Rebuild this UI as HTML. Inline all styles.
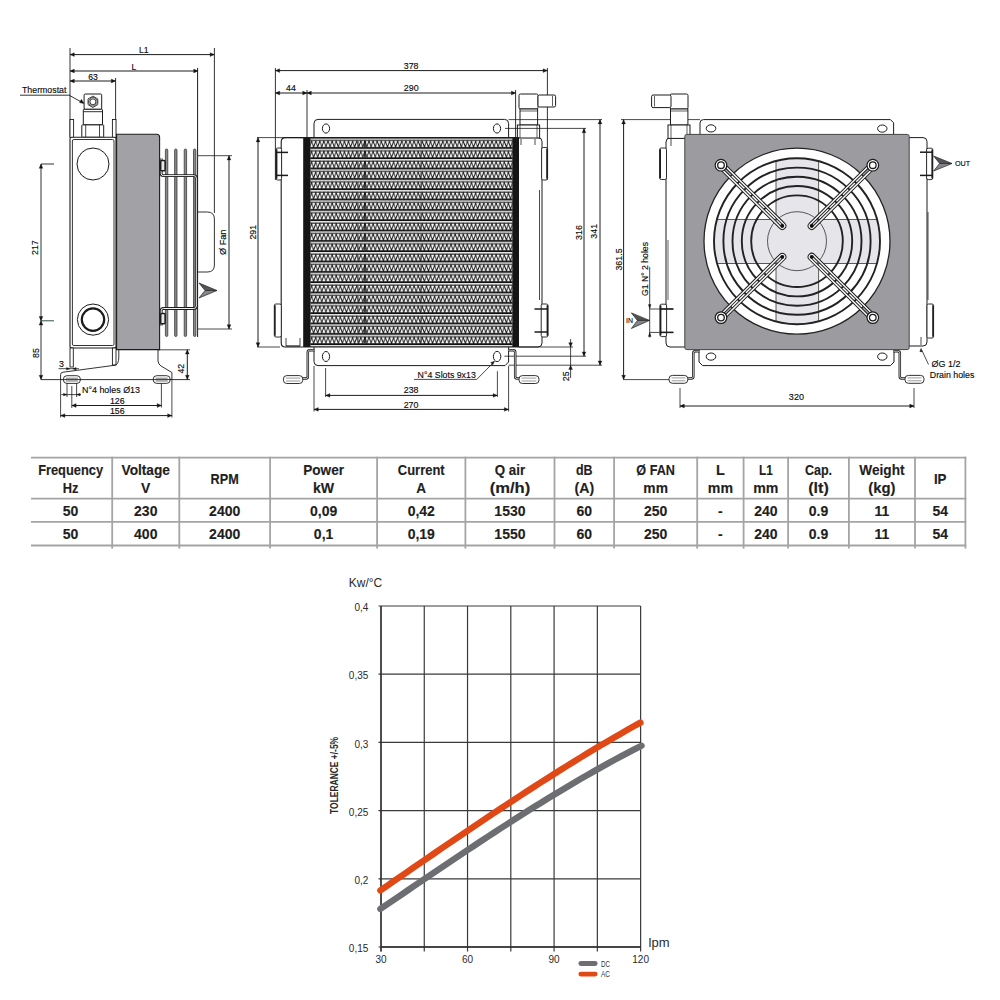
<!DOCTYPE html>
<html><head><meta charset="utf-8"><title>Oil cooler datasheet</title>
<style>
html,body{margin:0;padding:0;background:#fff;}
body{width:1000px;height:1000px;overflow:hidden;font-family:"Liberation Sans",sans-serif;}
svg{position:absolute;left:0;top:0;display:block;}
</style></head>
<body>
<svg width="1000" height="1000" viewBox="0 0 1000 1000">
<defs>
<pattern id="fin" x="0" y="138.4" width="4.1" height="10.33" patternUnits="userSpaceOnUse">
<rect x="0" y="0" width="4.1" height="10.33" fill="#111"/>
<rect x="0" y="0" width="4.1" height="1.6" fill="#e2e2e2"/>
<rect x="0" y="2.6" width="4.1" height="6.0" fill="#fafafa"/>
<path d="M-2.05 8.6 L0 2.6 L2.05 8.6 L4.1 2.6 L6.15 8.6" stroke="#111" stroke-width="0.95" fill="none"/>
</pattern>
</defs>
<line x1="70" y1="48" x2="70" y2="137" stroke="#1c1c1c" stroke-width="0.9" />
<line x1="70" y1="54.6" x2="214.4" y2="54.6" stroke="#1c1c1c" stroke-width="1" />
<path d="M70 54.6 L74.3 52.7 L74.3 56.5 Z" stroke="#151515" stroke-width="0.3" fill="#151515" />
<path d="M214.4 54.6 L210.1 52.7 L210.1 56.5 Z" stroke="#151515" stroke-width="0.3" fill="#151515" />
<text x="143.8" y="53.3" font-family="Liberation Sans, sans-serif" font-size="9.2" font-weight="normal" fill="#0a0a0a" text-anchor="middle" textLength="9.62" lengthAdjust="spacingAndGlyphs" stroke="#0a0a0a" stroke-width="0.14">L1</text>
<line x1="70" y1="71" x2="198" y2="71" stroke="#1c1c1c" stroke-width="1" />
<path d="M70 71 L74.3 69.1 L74.3 72.9 Z" stroke="#151515" stroke-width="0.3" fill="#151515" />
<path d="M198 71 L193.7 69.1 L193.7 72.9 Z" stroke="#151515" stroke-width="0.3" fill="#151515" />
<text x="134" y="70" font-family="Liberation Sans, sans-serif" font-size="9.2" font-weight="normal" fill="#0a0a0a" text-anchor="middle" textLength="4.81" lengthAdjust="spacingAndGlyphs" stroke="#0a0a0a" stroke-width="0.14">L</text>
<line x1="70" y1="81" x2="115.6" y2="81" stroke="#1c1c1c" stroke-width="1" />
<path d="M70 81 L74.3 79.1 L74.3 82.9 Z" stroke="#151515" stroke-width="0.3" fill="#151515" />
<path d="M115.6 81 L111.3 79.1 L111.3 82.9 Z" stroke="#151515" stroke-width="0.3" fill="#151515" />
<text x="93" y="79.8" font-family="Liberation Sans, sans-serif" font-size="9.2" font-weight="normal" fill="#0a0a0a" text-anchor="middle" textLength="9.62" lengthAdjust="spacingAndGlyphs" stroke="#0a0a0a" stroke-width="0.14">63</text>
<line x1="115.6" y1="78" x2="115.6" y2="137" stroke="#1c1c1c" stroke-width="0.9" />
<line x1="214.4" y1="48" x2="214.4" y2="213" stroke="#1c1c1c" stroke-width="0.9" />
<line x1="197.6" y1="68" x2="197.6" y2="337" stroke="#1c1c1c" stroke-width="1" />
<text x="44.2" y="93" font-family="Liberation Sans, sans-serif" font-size="9.4" font-weight="normal" fill="#0a0a0a" text-anchor="middle" textLength="44.4" lengthAdjust="spacingAndGlyphs" stroke="#0a0a0a" stroke-width="0.14">Thermostat</text>
<line x1="20" y1="95.2" x2="70" y2="95.2" stroke="#1c1c1c" stroke-width="0.9" />
<line x1="69.8" y1="95.6" x2="81" y2="101.8" stroke="#1c1c1c" stroke-width="0.9" />
<path d="M84.2 103.7 L79.4 102.6 L81.4 99.3 Z" stroke="#151515" stroke-width="0.3" fill="#151515" />
<rect x="84.1" y="94" width="17.6" height="15.3" rx="1.2" fill="white" stroke="#1c1c1c" stroke-width="1" />
<path d="M92.9 96.1 L97.8 98.9 L97.8 104.6 L92.9 107.5 L88 104.6 L88 98.9 Z" stroke="#1c1c1c" stroke-width="0.8" fill="none" stroke-linejoin="round"/>
<circle cx="92.9" cy="101.8" r="4.3" fill="none" stroke="#1c1c1c" stroke-width="0.8" />
<circle cx="92.9" cy="101.8" r="3" fill="white" stroke="#1c1c1c" stroke-width="0.9" />
<rect x="83.3" y="109.3" width="19.2" height="15.6" rx="0.8" fill="white" stroke="#1c1c1c" stroke-width="1" />
<line x1="83.3" y1="111.7" x2="102.5" y2="111.7" stroke="#1c1c1c" stroke-width="0.9" />
<rect x="81.8" y="124.9" width="21.9" height="12.4" rx="0.6" fill="white" stroke="#1c1c1c" stroke-width="1" />
<line x1="85.7" y1="124.9" x2="85.7" y2="137.3" stroke="#1c1c1c" stroke-width="0.8" />
<line x1="99.5" y1="124.9" x2="99.5" y2="137.3" stroke="#1c1c1c" stroke-width="0.8" />
<rect x="70" y="119.5" width="3.6" height="18" rx="0" fill="white" stroke="#1c1c1c" stroke-width="0.9" />
<rect x="112.4" y="119.5" width="3.6" height="18" rx="0" fill="white" stroke="#1c1c1c" stroke-width="0.9" />
<rect x="70" y="137.3" width="46" height="210.7" rx="1.5" fill="white" stroke="#1c1c1c" stroke-width="1.1" />
<rect x="72.4" y="139.5" width="41.6" height="206" rx="1.5" fill="none" stroke="#1c1c1c" stroke-width="0.9" />
<circle cx="93" cy="164" r="16" fill="white" stroke="#1c1c1c" stroke-width="1" />
<circle cx="93" cy="319.6" r="15.6" fill="white" stroke="#1c1c1c" stroke-width="1" />
<circle cx="93" cy="319.6" r="11.2" fill="white" stroke="#1c1c1c" stroke-width="2.2" />
<rect x="70" y="348" width="3.3" height="19" rx="0" fill="white" stroke="#1c1c1c" stroke-width="0.9" />
<rect x="112.4" y="348" width="3.6" height="17" rx="0" fill="white" stroke="#1c1c1c" stroke-width="0.9" />
<path d="M116.6 134.2 L156.6 134.2 Q159.6 134.2 159.6 137.2 L159.6 349.6 L116.6 349.6 Z" stroke="#1c1c1c" stroke-width="1.1" fill="#a2a1a6" />
<rect x="165.4" y="149" width="2.4" height="187.5" rx="1.2" fill="#8a8a8a" stroke="#2a2a2a" stroke-width="0.7" />
<rect x="174.6" y="149" width="2.4" height="187.5" rx="1.2" fill="#8a8a8a" stroke="#2a2a2a" stroke-width="0.7" />
<rect x="184.2" y="149" width="2.4" height="187.5" rx="1.2" fill="#8a8a8a" stroke="#2a2a2a" stroke-width="0.7" />
<rect x="193.5" y="149" width="2.4" height="187.5" rx="1.2" fill="#8a8a8a" stroke="#2a2a2a" stroke-width="0.7" />
<path d="M161.2 158.5 L161.2 173.5 Q161.2 175.6 163.3 175.6 L193.8 175.6 Q196.3 175.6 196.3 178.1 L196.3 306 Q196.3 308.5 193.8 308.5 L163.3 308.5 Q161.2 308.5 161.2 310.6 L161.2 325.5" stroke="#1c1c1c" stroke-width="2.8" fill="none" stroke-linejoin="round"/>
<path d="M161.2 158.5 L161.2 173.5 Q161.2 175.6 163.3 175.6 L193.8 175.6 Q196.3 175.6 196.3 178.1 L196.3 306 Q196.3 308.5 193.8 308.5 L163.3 308.5 Q161.2 308.5 161.2 310.6 L161.2 325.5" stroke="#f4f4f4" stroke-width="1" fill="none" stroke-linejoin="round"/>
<rect x="160.7" y="160.6" width="4.4" height="10.2" rx="1" fill="#e8e8e8" stroke="#1c1c1c" stroke-width="1.5" />
<rect x="160.7" y="313.6" width="4.4" height="10.2" rx="1" fill="#e8e8e8" stroke="#1c1c1c" stroke-width="1.5" />
<path d="M198 212 L207.4 212 Q214.4 212 214.4 219 L214.4 265 Q214.4 272 207.4 272 L198 272" stroke="#1c1c1c" stroke-width="0.9" fill="none" />
<line x1="198" y1="155.7" x2="232" y2="155.7" stroke="#1c1c1c" stroke-width="0.8" />
<line x1="198" y1="329" x2="232" y2="329" stroke="#1c1c1c" stroke-width="0.8" />
<line x1="229" y1="155.7" x2="229" y2="329" stroke="#1c1c1c" stroke-width="1" />
<path d="M229 155.7 L227.1 160 L230.9 160 Z" stroke="#151515" stroke-width="0.3" fill="#151515" />
<path d="M229 329 L227.1 324.7 L230.9 324.7 Z" stroke="#151515" stroke-width="0.3" fill="#151515" />
<text x="226" y="242.3" font-family="Liberation Sans, sans-serif" font-size="9.4" font-weight="normal" fill="#0a0a0a" text-anchor="middle" transform="rotate(-90 226 242.3)" textLength="25.5" lengthAdjust="spacingAndGlyphs" stroke="#0a0a0a" stroke-width="0.14">Ø Fan</text>
<path d="M199 283 L217 290.5 L205 290.5 Z" stroke="#222" stroke-width="0.7" fill="#555" />
<path d="M199 298 L217 290.5 L205 290.5 Z" stroke="#222" stroke-width="0.7" fill="#85858b" />
<line x1="41" y1="164" x2="41" y2="379.6" stroke="#1c1c1c" stroke-width="0.9" />
<path d="M41 164 L39.1 168.3 L42.9 168.3 Z" stroke="#151515" stroke-width="0.3" fill="#151515" />
<path d="M41 320.8 L39.1 316.5 L42.9 316.5 Z" stroke="#151515" stroke-width="0.3" fill="#151515" />
<path d="M41 320.8 L39.1 325.1 L42.9 325.1 Z" stroke="#151515" stroke-width="0.3" fill="#151515" />
<path d="M41 379.6 L39.1 375.3 L42.9 375.3 Z" stroke="#151515" stroke-width="0.3" fill="#151515" />
<line x1="41" y1="164" x2="54" y2="164" stroke="#1c1c1c" stroke-width="0.9" />
<line x1="41" y1="320.8" x2="54" y2="320.8" stroke="#1d3b2a" stroke-width="0.9" />
<text x="38.1" y="247.6" font-family="Liberation Sans, sans-serif" font-size="9.4" font-weight="normal" fill="#0a0a0a" text-anchor="middle" transform="rotate(-90 38.1 247.6)" textLength="14.74" lengthAdjust="spacingAndGlyphs" stroke="#0a0a0a" stroke-width="0.14">217</text>
<text x="38.5" y="353" font-family="Liberation Sans, sans-serif" font-size="9.4" font-weight="normal" fill="#0a0a0a" text-anchor="middle" transform="rotate(-90 38.5 353)" textLength="9.83" lengthAdjust="spacingAndGlyphs" stroke="#0a0a0a" stroke-width="0.14">85</text>
<path d="M60.6 380 L60.6 374.6 Q60.6 372.4 63 372.2 L115.2 365.2 Q118.5 364 118.8 358 L118.8 349.6" stroke="#1c1c1c" stroke-width="0.9" fill="none" />
<path d="M158 349.6 L158 361 Q158.5 364.5 161 366 L171.9 372.5 L171.9 380" stroke="#1c1c1c" stroke-width="0.9" fill="none" />
<line x1="41" y1="379.6" x2="190" y2="379.6" stroke="#1c1c1c" stroke-width="0.9" />
<rect x="63.4" y="375.7" width="17" height="7.7" rx="3.5" fill="none" stroke="#1c1c1c" stroke-width="0.9" />
<line x1="65.9" y1="378.2" x2="77.9" y2="378.2" stroke="#1c1c1c" stroke-width="0.6" />
<line x1="65.9" y1="381" x2="77.9" y2="381" stroke="#1c1c1c" stroke-width="0.6" />
<rect x="153.2" y="375.7" width="17" height="7.7" rx="3.5" fill="none" stroke="#1c1c1c" stroke-width="0.9" />
<line x1="155.7" y1="378.2" x2="167.7" y2="378.2" stroke="#1c1c1c" stroke-width="0.6" />
<line x1="155.7" y1="381" x2="167.7" y2="381" stroke="#1c1c1c" stroke-width="0.6" />
<line x1="158" y1="349.8" x2="190" y2="349.8" stroke="#1c1c1c" stroke-width="0.8" />
<line x1="187.3" y1="349.8" x2="187.3" y2="379.6" stroke="#1c1c1c" stroke-width="1" />
<path d="M187.3 349.8 L185.4 354.1 L189.2 354.1 Z" stroke="#151515" stroke-width="0.3" fill="#151515" />
<path d="M187.3 379.6 L185.4 375.3 L189.2 375.3 Z" stroke="#151515" stroke-width="0.3" fill="#151515" />
<text x="184.5" y="368.7" font-family="Liberation Sans, sans-serif" font-size="9.4" font-weight="normal" fill="#0a0a0a" text-anchor="middle" transform="rotate(-90 184.5 368.7)" textLength="9.83" lengthAdjust="spacingAndGlyphs" stroke="#0a0a0a" stroke-width="0.14">42</text>
<text x="61.4" y="366.6" font-family="Liberation Sans, sans-serif" font-size="9.4" font-weight="normal" fill="#0a0a0a" text-anchor="middle" textLength="4.91" lengthAdjust="spacingAndGlyphs" stroke="#0a0a0a" stroke-width="0.14">3</text>
<line x1="58.5" y1="368.7" x2="79" y2="368.7" stroke="#1c1c1c" stroke-width="0.8" />
<path d="M70 368.7 L66.5 367.4 L66.5 370 Z" stroke="#151515" stroke-width="0.3" fill="#151515" />
<path d="M72.6 368.7 L76.1 367.4 L76.1 370 Z" stroke="#151515" stroke-width="0.3" fill="#151515" />
<line x1="67" y1="383" x2="67" y2="397" stroke="#1c1c1c" stroke-width="0.8" />
<line x1="76.6" y1="383" x2="76.6" y2="397" stroke="#1c1c1c" stroke-width="0.8" />
<line x1="71.8" y1="386" x2="71.8" y2="408" stroke="#1c1c1c" stroke-width="0.8" />
<line x1="61.3" y1="394.6" x2="81" y2="394.6" stroke="#1c1c1c" stroke-width="0.8" />
<path d="M67 394.6 L63.5 393.3 L63.5 395.9 Z" stroke="#151515" stroke-width="0.3" fill="#151515" />
<path d="M76.6 394.6 L80.1 393.3 L80.1 395.9 Z" stroke="#151515" stroke-width="0.3" fill="#151515" />
<text x="82" y="393" font-family="Liberation Sans, sans-serif" font-size="9.4" font-weight="normal" fill="#0a0a0a" text-anchor="start" textLength="58" lengthAdjust="spacingAndGlyphs" stroke="#0a0a0a" stroke-width="0.14">N°4 holes Ø13</text>
<line x1="161.4" y1="383.5" x2="161.4" y2="407.5" stroke="#1c1c1c" stroke-width="0.8" />
<line x1="71.8" y1="405.5" x2="161.4" y2="405.5" stroke="#1c1c1c" stroke-width="1" />
<path d="M71.8 405.5 L76.1 403.6 L76.1 407.4 Z" stroke="#151515" stroke-width="0.3" fill="#151515" />
<path d="M161.4 405.5 L157.1 403.6 L157.1 407.4 Z" stroke="#151515" stroke-width="0.3" fill="#151515" />
<text x="117.3" y="403.7" font-family="Liberation Sans, sans-serif" font-size="9.4" font-weight="normal" fill="#0a0a0a" text-anchor="middle" textLength="14.74" lengthAdjust="spacingAndGlyphs" stroke="#0a0a0a" stroke-width="0.14">126</text>
<line x1="60.6" y1="380" x2="60.6" y2="417.5" stroke="#1c1c1c" stroke-width="0.8" />
<line x1="171.9" y1="380" x2="171.9" y2="417.5" stroke="#1c1c1c" stroke-width="0.8" />
<line x1="60.6" y1="415.6" x2="171.9" y2="415.6" stroke="#1c1c1c" stroke-width="1" />
<path d="M60.6 415.6 L64.9 413.7 L64.9 417.5 Z" stroke="#151515" stroke-width="0.3" fill="#151515" />
<path d="M171.9 415.6 L167.6 413.7 L167.6 417.5 Z" stroke="#151515" stroke-width="0.3" fill="#151515" />
<text x="117.3" y="414.2" font-family="Liberation Sans, sans-serif" font-size="9.4" font-weight="normal" fill="#0a0a0a" text-anchor="middle" textLength="14.74" lengthAdjust="spacingAndGlyphs" stroke="#0a0a0a" stroke-width="0.14">156</text>
<line x1="275.4" y1="68" x2="275.4" y2="180" stroke="#1c1c1c" stroke-width="0.9" />
<line x1="275.4" y1="70.6" x2="547.4" y2="70.6" stroke="#1c1c1c" stroke-width="1" />
<path d="M275.4 70.6 L279.7 68.7 L279.7 72.5 Z" stroke="#151515" stroke-width="0.3" fill="#151515" />
<path d="M547.4 70.6 L543.1 68.7 L543.1 72.5 Z" stroke="#151515" stroke-width="0.3" fill="#151515" />
<text x="411.1" y="69" font-family="Liberation Sans, sans-serif" font-size="9.4" font-weight="normal" fill="#0a0a0a" text-anchor="middle" textLength="14.74" lengthAdjust="spacingAndGlyphs" stroke="#0a0a0a" stroke-width="0.14">378</text>
<line x1="307" y1="90" x2="307" y2="137.6" stroke="#1c1c1c" stroke-width="0.9" />
<line x1="275.4" y1="93" x2="307" y2="93" stroke="#1c1c1c" stroke-width="1" />
<path d="M275.4 93 L279.7 91.1 L279.7 94.9 Z" stroke="#151515" stroke-width="0.3" fill="#151515" />
<path d="M307 93 L302.7 91.1 L302.7 94.9 Z" stroke="#151515" stroke-width="0.3" fill="#151515" />
<line x1="307" y1="93" x2="515.6" y2="93" stroke="#1c1c1c" stroke-width="1" />
<path d="M307 93 L311.3 91.1 L311.3 94.9 Z" stroke="#151515" stroke-width="0.3" fill="#151515" />
<path d="M515.6 93 L511.3 91.1 L511.3 94.9 Z" stroke="#151515" stroke-width="0.3" fill="#151515" />
<text x="291" y="91" font-family="Liberation Sans, sans-serif" font-size="9.4" font-weight="normal" fill="#0a0a0a" text-anchor="middle" textLength="9.83" lengthAdjust="spacingAndGlyphs" stroke="#0a0a0a" stroke-width="0.14">44</text>
<text x="411.2" y="91" font-family="Liberation Sans, sans-serif" font-size="9.4" font-weight="normal" fill="#0a0a0a" text-anchor="middle" textLength="14.74" lengthAdjust="spacingAndGlyphs" stroke="#0a0a0a" stroke-width="0.14">290</text>
<line x1="515.6" y1="90" x2="515.6" y2="137.6" stroke="#1c1c1c" stroke-width="0.9" />
<line x1="547.4" y1="68" x2="547.4" y2="180" stroke="#1c1c1c" stroke-width="0.9" />
<path d="M314 137.6 L314 123.4 Q314 119.4 318 119.4 L504.6 119.4 Q508.6 119.4 508.6 123.4 L508.6 137.6" stroke="#1c1c1c" stroke-width="1" fill="white" />
<ellipse cx="326" cy="128.5" rx="3.6" ry="4.6" fill="white" stroke="#1c1c1c" stroke-width="1"/>
<ellipse cx="497" cy="128.5" rx="3.6" ry="4.6" fill="white" stroke="#1c1c1c" stroke-width="1"/>
<path d="M314 347 L314 361.6 Q314 365.6 318 365.6 L505 365.6 L508.6 362 L508.6 347" stroke="#1c1c1c" stroke-width="1" fill="white" />
<ellipse cx="326" cy="356.5" rx="3.6" ry="5" fill="white" stroke="#1c1c1c" stroke-width="1"/>
<ellipse cx="497.1" cy="356.5" rx="3.7" ry="5.1" fill="white" stroke="#1c1c1c" stroke-width="1"/>
<path d="M303.6 137.6 L285.5 137.6 Q281.2 137.6 281.2 141.9 L281.2 342.7 Q281.2 347 285.5 347 L303.6 347" stroke="#1c1c1c" stroke-width="1.1" fill="white" />
<rect x="276" y="148" width="5.6" height="32" rx="1.6" fill="white" stroke="#1c1c1c" stroke-width="0.9" />
<line x1="276.6" y1="149.2" x2="276.6" y2="178.8" stroke="#1c1c1c" stroke-width="1.6" />
<line x1="276" y1="152.4" x2="288" y2="152.4" stroke="#1c1c1c" stroke-width="1.5" />
<line x1="276" y1="175.4" x2="288" y2="175.4" stroke="#1c1c1c" stroke-width="1.5" />
<rect x="274.3" y="304" width="7" height="33" rx="1.6" fill="white" stroke="#1c1c1c" stroke-width="0.9" />
<line x1="274.9" y1="305.2" x2="274.9" y2="335.8" stroke="#1c1c1c" stroke-width="1.6" />
<line x1="286" y1="338" x2="286" y2="346" stroke="#1c1c1c" stroke-width="0.8" />
<line x1="300" y1="338" x2="300" y2="346" stroke="#1c1c1c" stroke-width="0.8" />
<line x1="286" y1="346" x2="300" y2="346" stroke="#1c1c1c" stroke-width="1.2" />
<path d="M519 137.6 L538 137.6 Q542 137.6 542 141.6 L542 343 Q542 347 538 347 L519 347" stroke="#1c1c1c" stroke-width="1" fill="white" />
<rect x="541.6" y="147.5" width="6" height="32.5" rx="1.6" fill="white" stroke="#1c1c1c" stroke-width="0.9" />
<line x1="547" y1="148.7" x2="547" y2="178.8" stroke="#1c1c1c" stroke-width="1.6" />
<rect x="541.2" y="304" width="6.8" height="33" rx="1.6" fill="white" stroke="#1c1c1c" stroke-width="0.9" />
<line x1="547.4" y1="305.2" x2="547.4" y2="335.8" stroke="#1c1c1c" stroke-width="1.6" />
<line x1="534.5" y1="309" x2="548" y2="309" stroke="#1c1c1c" stroke-width="1.5" />
<line x1="534.5" y1="332" x2="548" y2="332" stroke="#1c1c1c" stroke-width="1.5" />
<line x1="539.5" y1="190" x2="539.5" y2="300" stroke="#1c1c1c" stroke-width="0.8" />
<line x1="521" y1="139" x2="521" y2="145" stroke="#1c1c1c" stroke-width="0.8" />
<line x1="535" y1="139" x2="535" y2="145" stroke="#1c1c1c" stroke-width="0.8" />
<rect x="519" y="94" width="19" height="15" rx="1.5" fill="white" stroke="#1c1c1c" stroke-width="1" />
<rect x="538" y="95" width="17.6" height="12" rx="1.5" fill="white" stroke="#1c1c1c" stroke-width="1" />
<line x1="552.5" y1="96" x2="552.5" y2="106" stroke="#1c1c1c" stroke-width="0.7" />
<rect x="520" y="109" width="17.6" height="16" rx="0" fill="white" stroke="#1c1c1c" stroke-width="1" />
<line x1="520" y1="111" x2="537.6" y2="111" stroke="#1c1c1c" stroke-width="0.7" />
<rect x="517.4" y="125" width="22.2" height="13" rx="0" fill="white" stroke="#1c1c1c" stroke-width="1" />
<line x1="520" y1="125" x2="520" y2="138" stroke="#1c1c1c" stroke-width="0.7" />
<line x1="537" y1="125" x2="537" y2="138" stroke="#1c1c1c" stroke-width="0.7" />
<rect x="303.2" y="137.6" width="7.4" height="209.4" rx="0" fill="#151515" stroke="none" stroke-width="0" />
<rect x="512.2" y="137.6" width="6.8" height="209.4" rx="0" fill="#151515" stroke="none" stroke-width="0" />
<rect x="310.6" y="137.6" width="201.6" height="209.4" rx="0" fill="#141414" stroke="none" stroke-width="0" />
<rect x="310.6" y="137.6" width="201.6" height="209.4" fill="url(#fin)"/>
<rect x="364.2" y="140.8" width="1.5" height="6.3" rx="0" fill="#111" stroke="none" stroke-width="0" />
<rect x="357.5" y="140.8" width="1" height="6.3" rx="0" fill="#444" stroke="none" stroke-width="0" />
<rect x="420.6" y="140.8" width="0.9" height="6.3" rx="0" fill="#333" stroke="none" stroke-width="0" />
<rect x="364.2" y="151.13" width="1.5" height="6.3" rx="0" fill="#111" stroke="none" stroke-width="0" />
<rect x="357.5" y="151.13" width="1" height="6.3" rx="0" fill="#444" stroke="none" stroke-width="0" />
<rect x="420.6" y="151.13" width="0.9" height="6.3" rx="0" fill="#333" stroke="none" stroke-width="0" />
<rect x="364.2" y="161.46" width="1.5" height="6.3" rx="0" fill="#111" stroke="none" stroke-width="0" />
<rect x="357.5" y="161.46" width="1" height="6.3" rx="0" fill="#444" stroke="none" stroke-width="0" />
<rect x="420.6" y="161.46" width="0.9" height="6.3" rx="0" fill="#333" stroke="none" stroke-width="0" />
<rect x="364.2" y="171.79" width="1.5" height="6.3" rx="0" fill="#111" stroke="none" stroke-width="0" />
<rect x="357.5" y="171.79" width="1" height="6.3" rx="0" fill="#444" stroke="none" stroke-width="0" />
<rect x="420.6" y="171.79" width="0.9" height="6.3" rx="0" fill="#333" stroke="none" stroke-width="0" />
<rect x="364.2" y="182.12" width="1.5" height="6.3" rx="0" fill="#111" stroke="none" stroke-width="0" />
<rect x="357.5" y="182.12" width="1" height="6.3" rx="0" fill="#444" stroke="none" stroke-width="0" />
<rect x="420.6" y="182.12" width="0.9" height="6.3" rx="0" fill="#333" stroke="none" stroke-width="0" />
<rect x="364.2" y="192.45" width="1.5" height="6.3" rx="0" fill="#111" stroke="none" stroke-width="0" />
<rect x="357.5" y="192.45" width="1" height="6.3" rx="0" fill="#444" stroke="none" stroke-width="0" />
<rect x="420.6" y="192.45" width="0.9" height="6.3" rx="0" fill="#333" stroke="none" stroke-width="0" />
<rect x="364.2" y="202.78" width="1.5" height="6.3" rx="0" fill="#111" stroke="none" stroke-width="0" />
<rect x="357.5" y="202.78" width="1" height="6.3" rx="0" fill="#444" stroke="none" stroke-width="0" />
<rect x="420.6" y="202.78" width="0.9" height="6.3" rx="0" fill="#333" stroke="none" stroke-width="0" />
<rect x="364.2" y="213.11" width="1.5" height="6.3" rx="0" fill="#111" stroke="none" stroke-width="0" />
<rect x="357.5" y="213.11" width="1" height="6.3" rx="0" fill="#444" stroke="none" stroke-width="0" />
<rect x="420.6" y="213.11" width="0.9" height="6.3" rx="0" fill="#333" stroke="none" stroke-width="0" />
<rect x="364.2" y="223.44" width="1.5" height="6.3" rx="0" fill="#111" stroke="none" stroke-width="0" />
<rect x="357.5" y="223.44" width="1" height="6.3" rx="0" fill="#444" stroke="none" stroke-width="0" />
<rect x="420.6" y="223.44" width="0.9" height="6.3" rx="0" fill="#333" stroke="none" stroke-width="0" />
<rect x="364.2" y="233.77" width="1.5" height="6.3" rx="0" fill="#111" stroke="none" stroke-width="0" />
<rect x="357.5" y="233.77" width="1" height="6.3" rx="0" fill="#444" stroke="none" stroke-width="0" />
<rect x="420.6" y="233.77" width="0.9" height="6.3" rx="0" fill="#333" stroke="none" stroke-width="0" />
<rect x="364.2" y="244.1" width="1.5" height="6.3" rx="0" fill="#111" stroke="none" stroke-width="0" />
<rect x="357.5" y="244.1" width="1" height="6.3" rx="0" fill="#444" stroke="none" stroke-width="0" />
<rect x="420.6" y="244.1" width="0.9" height="6.3" rx="0" fill="#333" stroke="none" stroke-width="0" />
<rect x="364.2" y="254.43" width="1.5" height="6.3" rx="0" fill="#111" stroke="none" stroke-width="0" />
<rect x="357.5" y="254.43" width="1" height="6.3" rx="0" fill="#444" stroke="none" stroke-width="0" />
<rect x="420.6" y="254.43" width="0.9" height="6.3" rx="0" fill="#333" stroke="none" stroke-width="0" />
<rect x="364.2" y="264.76" width="1.5" height="6.3" rx="0" fill="#111" stroke="none" stroke-width="0" />
<rect x="357.5" y="264.76" width="1" height="6.3" rx="0" fill="#444" stroke="none" stroke-width="0" />
<rect x="420.6" y="264.76" width="0.9" height="6.3" rx="0" fill="#333" stroke="none" stroke-width="0" />
<rect x="364.2" y="275.09" width="1.5" height="6.3" rx="0" fill="#111" stroke="none" stroke-width="0" />
<rect x="357.5" y="275.09" width="1" height="6.3" rx="0" fill="#444" stroke="none" stroke-width="0" />
<rect x="420.6" y="275.09" width="0.9" height="6.3" rx="0" fill="#333" stroke="none" stroke-width="0" />
<rect x="364.2" y="285.42" width="1.5" height="6.3" rx="0" fill="#111" stroke="none" stroke-width="0" />
<rect x="357.5" y="285.42" width="1" height="6.3" rx="0" fill="#444" stroke="none" stroke-width="0" />
<rect x="420.6" y="285.42" width="0.9" height="6.3" rx="0" fill="#333" stroke="none" stroke-width="0" />
<rect x="364.2" y="295.75" width="1.5" height="6.3" rx="0" fill="#111" stroke="none" stroke-width="0" />
<rect x="357.5" y="295.75" width="1" height="6.3" rx="0" fill="#444" stroke="none" stroke-width="0" />
<rect x="420.6" y="295.75" width="0.9" height="6.3" rx="0" fill="#333" stroke="none" stroke-width="0" />
<rect x="364.2" y="306.08" width="1.5" height="6.3" rx="0" fill="#111" stroke="none" stroke-width="0" />
<rect x="357.5" y="306.08" width="1" height="6.3" rx="0" fill="#444" stroke="none" stroke-width="0" />
<rect x="420.6" y="306.08" width="0.9" height="6.3" rx="0" fill="#333" stroke="none" stroke-width="0" />
<rect x="364.2" y="316.41" width="1.5" height="6.3" rx="0" fill="#111" stroke="none" stroke-width="0" />
<rect x="357.5" y="316.41" width="1" height="6.3" rx="0" fill="#444" stroke="none" stroke-width="0" />
<rect x="420.6" y="316.41" width="0.9" height="6.3" rx="0" fill="#333" stroke="none" stroke-width="0" />
<rect x="364.2" y="326.74" width="1.5" height="6.3" rx="0" fill="#111" stroke="none" stroke-width="0" />
<rect x="357.5" y="326.74" width="1" height="6.3" rx="0" fill="#444" stroke="none" stroke-width="0" />
<rect x="420.6" y="326.74" width="0.9" height="6.3" rx="0" fill="#333" stroke="none" stroke-width="0" />
<rect x="364.2" y="337.07" width="1.5" height="6.3" rx="0" fill="#111" stroke="none" stroke-width="0" />
<rect x="357.5" y="337.07" width="1" height="6.3" rx="0" fill="#444" stroke="none" stroke-width="0" />
<rect x="420.6" y="337.07" width="0.9" height="6.3" rx="0" fill="#333" stroke="none" stroke-width="0" />
<line x1="300" y1="137.6" x2="313" y2="137.6" stroke="#1c1c1c" stroke-width="1" />
<line x1="257" y1="137.6" x2="303.6" y2="137.6" stroke="#1c1c1c" stroke-width="0.8" />
<line x1="303.6" y1="137.6" x2="519" y2="137.6" stroke="#1c1c1c" stroke-width="1.2" />
<line x1="303.6" y1="347" x2="519" y2="347" stroke="#1c1c1c" stroke-width="1.2" />
<line x1="258" y1="137.6" x2="258" y2="347" stroke="#1c1c1c" stroke-width="1" />
<path d="M258 137.6 L256.1 141.9 L259.9 141.9 Z" stroke="#151515" stroke-width="0.3" fill="#151515" />
<path d="M258 347 L256.1 342.7 L259.9 342.7 Z" stroke="#151515" stroke-width="0.3" fill="#151515" />
<line x1="257" y1="347" x2="280" y2="347" stroke="#1c1c1c" stroke-width="0.8" />
<text x="255.9" y="232.2" font-family="Liberation Sans, sans-serif" font-size="9.4" font-weight="normal" fill="#0a0a0a" text-anchor="middle" transform="rotate(-90 255.9 232.2)" textLength="14.74" lengthAdjust="spacingAndGlyphs" stroke="#0a0a0a" stroke-width="0.14">291</text>
<line x1="508.6" y1="119.6" x2="602" y2="119.6" stroke="#1c1c1c" stroke-width="0.8" />
<line x1="621" y1="119.6" x2="700" y2="119.6" stroke="#1c1c1c" stroke-width="0.8" />
<line x1="505" y1="128.4" x2="586" y2="128.4" stroke="#1c1c1c" stroke-width="0.8" />
<line x1="584" y1="128.4" x2="584" y2="356.2" stroke="#1c1c1c" stroke-width="1" />
<path d="M584 128.4 L582.1 132.7 L585.9 132.7 Z" stroke="#151515" stroke-width="0.3" fill="#151515" />
<path d="M584 356.2 L582.1 351.9 L585.9 351.9 Z" stroke="#151515" stroke-width="0.3" fill="#151515" />
<line x1="504.4" y1="356.2" x2="586" y2="356.2" stroke="#1c1c1c" stroke-width="0.8" />
<text x="581.8" y="232.5" font-family="Liberation Sans, sans-serif" font-size="9.4" font-weight="normal" fill="#0a0a0a" text-anchor="middle" transform="rotate(-90 581.8 232.5)" textLength="14.74" lengthAdjust="spacingAndGlyphs" stroke="#0a0a0a" stroke-width="0.14">316</text>
<line x1="600" y1="119.6" x2="600" y2="365.2" stroke="#1c1c1c" stroke-width="1" />
<path d="M600 119.6 L598.1 123.9 L601.9 123.9 Z" stroke="#151515" stroke-width="0.3" fill="#151515" />
<path d="M600 365.2 L598.1 360.9 L601.9 360.9 Z" stroke="#151515" stroke-width="0.3" fill="#151515" />
<line x1="508.6" y1="365.2" x2="602" y2="365.2" stroke="#1c1c1c" stroke-width="0.8" />
<text x="597.2" y="231.3" font-family="Liberation Sans, sans-serif" font-size="9.4" font-weight="normal" fill="#0a0a0a" text-anchor="middle" transform="rotate(-90 597.2 231.3)" textLength="14.74" lengthAdjust="spacingAndGlyphs" stroke="#0a0a0a" stroke-width="0.14">341</text>
<line x1="623.6" y1="119.6" x2="623.6" y2="379.6" stroke="#1c1c1c" stroke-width="1" />
<path d="M623.6 119.6 L621.7 123.9 L625.5 123.9 Z" stroke="#151515" stroke-width="0.3" fill="#151515" />
<path d="M623.6 379.6 L621.7 375.3 L625.5 375.3 Z" stroke="#151515" stroke-width="0.3" fill="#151515" />
<text x="622" y="259.5" font-family="Liberation Sans, sans-serif" font-size="9.4" font-weight="normal" fill="#0a0a0a" text-anchor="middle" transform="rotate(-90 622 259.5)" textLength="22.11" lengthAdjust="spacingAndGlyphs" stroke="#0a0a0a" stroke-width="0.14">361.5</text>
<line x1="623.6" y1="379.6" x2="672" y2="379.6" stroke="#1c1c1c" stroke-width="0.8" />
<line x1="519" y1="347" x2="573" y2="347" stroke="#1c1c1c" stroke-width="0.8" />
<line x1="570.6" y1="339" x2="570.6" y2="378" stroke="#1c1c1c" stroke-width="0.8" />
<path d="M570.6 347 L568.7 342.7 L572.5 342.7 Z" stroke="#151515" stroke-width="0.3" fill="#151515" />
<path d="M570.6 365.2 L568.7 369.5 L572.5 369.5 Z" stroke="#151515" stroke-width="0.3" fill="#151515" />
<text x="568.8" y="376.3" font-family="Liberation Sans, sans-serif" font-size="9.4" font-weight="normal" fill="#0a0a0a" text-anchor="middle" transform="rotate(-90 568.8 376.3)" textLength="9.83" lengthAdjust="spacingAndGlyphs" stroke="#0a0a0a" stroke-width="0.14">25</text>
<path d="M314.5 350.2 L309.8 350.2 Q307.8 350.2 307.8 352.2 L307.8 376.6 Q307.8 378.6 305.8 378.6 L301.5 378.6" stroke="#1c1c1c" stroke-width="2.5" fill="none" />
<path d="M314.5 350.2 L309.8 350.2 Q307.8 350.2 307.8 352.2 L307.8 376.6 Q307.8 378.6 305.8 378.6 L301.5 378.6" stroke="#f0f0f0" stroke-width="0.8" fill="none" />
<rect x="283.4" y="375.6" width="19.4" height="7.9" rx="3.4" fill="white" stroke="#1c1c1c" stroke-width="0.9" />
<line x1="286" y1="378.1" x2="300.2" y2="378.1" stroke="#555" stroke-width="0.6" />
<line x1="286" y1="381" x2="300.2" y2="381" stroke="#555" stroke-width="0.6" />
<path d="M508.2 350.2 L513.2 350.2 Q515.2 350.2 515.2 352.2 L515.2 376.6 Q515.2 378.6 517.2 378.6 L520.5 378.6" stroke="#1c1c1c" stroke-width="2.5" fill="none" />
<path d="M508.2 350.2 L513.2 350.2 Q515.2 350.2 515.2 352.2 L515.2 376.6 Q515.2 378.6 517.2 378.6 L520.5 378.6" stroke="#f0f0f0" stroke-width="0.8" fill="none" />
<rect x="519" y="375.6" width="20" height="7.9" rx="3.4" fill="white" stroke="#1c1c1c" stroke-width="0.9" />
<line x1="521.6" y1="378.1" x2="536.4" y2="378.1" stroke="#555" stroke-width="0.6" />
<line x1="521.6" y1="381" x2="536.4" y2="381" stroke="#555" stroke-width="0.6" />
<line x1="325.6" y1="368" x2="325.6" y2="397" stroke="#1c1c1c" stroke-width="0.8" />
<line x1="497.4" y1="371.2" x2="497.4" y2="397" stroke="#1c1c1c" stroke-width="0.8" />
<line x1="325.6" y1="395.4" x2="497.4" y2="395.4" stroke="#1c1c1c" stroke-width="1" />
<path d="M325.6 395.4 L329.9 393.5 L329.9 397.3 Z" stroke="#151515" stroke-width="0.3" fill="#151515" />
<path d="M497.4 395.4 L493.1 393.5 L493.1 397.3 Z" stroke="#151515" stroke-width="0.3" fill="#151515" />
<text x="411.1" y="392.8" font-family="Liberation Sans, sans-serif" font-size="9.4" font-weight="normal" fill="#0a0a0a" text-anchor="middle" textLength="14.74" lengthAdjust="spacingAndGlyphs" stroke="#0a0a0a" stroke-width="0.14">238</text>
<line x1="314" y1="366" x2="314" y2="411.5" stroke="#1c1c1c" stroke-width="0.8" />
<line x1="508.6" y1="366" x2="508.6" y2="411.5" stroke="#1c1c1c" stroke-width="0.8" />
<line x1="314" y1="409.4" x2="508.6" y2="409.4" stroke="#1c1c1c" stroke-width="1" />
<path d="M314 409.4 L318.3 407.5 L318.3 411.3 Z" stroke="#151515" stroke-width="0.3" fill="#151515" />
<path d="M508.6 409.4 L504.3 407.5 L504.3 411.3 Z" stroke="#151515" stroke-width="0.3" fill="#151515" />
<text x="411" y="408.4" font-family="Liberation Sans, sans-serif" font-size="9.4" font-weight="normal" fill="#0a0a0a" text-anchor="middle" textLength="14.74" lengthAdjust="spacingAndGlyphs" stroke="#0a0a0a" stroke-width="0.14">270</text>
<text x="417.6" y="378.2" font-family="Liberation Sans, sans-serif" font-size="9.4" font-weight="normal" fill="#0a0a0a" text-anchor="start" textLength="58.2" lengthAdjust="spacingAndGlyphs" stroke="#0a0a0a" stroke-width="0.14">N°4 Slots 9x13</text>
<line x1="414" y1="379.4" x2="476.8" y2="379.4" stroke="#1c1c1c" stroke-width="0.8" />
<line x1="476.8" y1="379.4" x2="493" y2="363" stroke="#1c1c1c" stroke-width="0.8" />
<path d="M494.8 361 L490.6 362.6 L492.8 364.9 Z" stroke="#222" stroke-width="0.3" fill="#222" />
<path d="M700 134.4 L700 123 Q700 119.6 703.5 119.6 L890.4 119.6 L893.6 122.8 L893.6 134.4" stroke="#1c1c1c" stroke-width="1" fill="white" />
<ellipse cx="711" cy="128.4" rx="4.8" ry="3.6" fill="white" stroke="#1c1c1c" stroke-width="1"/>
<ellipse cx="882.3" cy="128.6" rx="4.7" ry="3.6" fill="white" stroke="#1c1c1c" stroke-width="1"/>
<path d="M699 349.6 L699 362 L702.6 365.6 L890.4 365.6 L894 362 L894 349.6" stroke="#1c1c1c" stroke-width="1" fill="white" />
<ellipse cx="711" cy="356.6" rx="4.8" ry="3.6" fill="white" stroke="#1c1c1c" stroke-width="1"/>
<ellipse cx="882.3" cy="356.6" rx="4.7" ry="3.6" fill="white" stroke="#1c1c1c" stroke-width="1"/>
<path d="M685 138 L670 138 Q666 138 666 142 L666 343 Q666 347 670 347 L685 347" stroke="#1c1c1c" stroke-width="1" fill="white" />
<line x1="668" y1="240" x2="668" y2="300" stroke="#1c1c1c" stroke-width="0.7" />
<rect x="659.6" y="148" width="6.9" height="31.5" rx="1.6" fill="white" stroke="#1c1c1c" stroke-width="0.9" />
<line x1="660.2" y1="149.2" x2="660.2" y2="178.3" stroke="#1c1c1c" stroke-width="1.6" />
<rect x="660" y="304.2" width="6.6" height="32.4" rx="1.6" fill="white" stroke="#1c1c1c" stroke-width="0.9" />
<line x1="660.6" y1="305.4" x2="660.6" y2="335.4" stroke="#1c1c1c" stroke-width="1.6" />
<line x1="660" y1="309" x2="673.4" y2="309" stroke="#1c1c1c" stroke-width="1.5" />
<line x1="660" y1="332.4" x2="673.4" y2="332.4" stroke="#1c1c1c" stroke-width="1.5" />
<line x1="671" y1="139" x2="671" y2="146" stroke="#1c1c1c" stroke-width="0.8" />
<path d="M909 137.6 L923 137.6 Q927 137.6 927 141.6 L927 342 Q927 346 923 346 L909 346" stroke="#1c1c1c" stroke-width="1" fill="white" />
<rect x="926.6" y="148.2" width="6.2" height="31.4" rx="1.6" fill="white" stroke="#1c1c1c" stroke-width="0.9" />
<line x1="932.2" y1="149.4" x2="932.2" y2="178.4" stroke="#1c1c1c" stroke-width="1.6" />
<line x1="920" y1="152.2" x2="932.6" y2="152.2" stroke="#1c1c1c" stroke-width="1.5" />
<line x1="920" y1="175.4" x2="932.6" y2="175.4" stroke="#1c1c1c" stroke-width="1.5" />
<rect x="927" y="304" width="6.6" height="34" rx="1.6" fill="white" stroke="#1c1c1c" stroke-width="0.9" />
<line x1="933" y1="305.2" x2="933" y2="336.8" stroke="#1c1c1c" stroke-width="1.6" />
<line x1="928" y1="212" x2="928" y2="300" stroke="#1c1c1c" stroke-width="0.8" />
<line x1="921" y1="337" x2="921" y2="345" stroke="#1c1c1c" stroke-width="0.8" />
<rect x="670" y="94" width="18" height="15" rx="1.5" fill="white" stroke="#1c1c1c" stroke-width="1" />
<rect x="651.6" y="95" width="19.4" height="12.6" rx="1.5" fill="white" stroke="#1c1c1c" stroke-width="1" />
<line x1="654.5" y1="96" x2="654.5" y2="106.5" stroke="#1c1c1c" stroke-width="0.7" />
<rect x="670.5" y="109" width="17.4" height="16" rx="0" fill="white" stroke="#1c1c1c" stroke-width="1" />
<line x1="670.5" y1="111" x2="687.9" y2="111" stroke="#1c1c1c" stroke-width="0.7" />
<rect x="668" y="125" width="22" height="13.4" rx="0" fill="white" stroke="#1c1c1c" stroke-width="1" />
<line x1="671" y1="125" x2="671" y2="138.4" stroke="#1c1c1c" stroke-width="0.7" />
<line x1="687" y1="125" x2="687" y2="138.4" stroke="#1c1c1c" stroke-width="0.7" />
<rect x="684.8" y="134.4" width="224.4" height="215.2" rx="2" fill="#9c9ba0" stroke="#444" stroke-width="1" />
<circle cx="797" cy="241.2" r="93" fill="white" stroke="#222" stroke-width="1.3" />
<clipPath id="fanclip"><circle cx="797" cy="241.2" r="83"/></clipPath>
<g clip-path="url(#fanclip)">
<rect x="776" y="150" width="42.7" height="185" rx="0" fill="#e6e6ea" stroke="#333" stroke-width="0.8" />
<rect x="700" y="219.6" width="194" height="43.9" rx="0" fill="#e6e6ea" stroke="#333" stroke-width="0.8" />
<rect x="776.4" y="220" width="41.9" height="43.1" rx="0" fill="#e6e6ea" stroke="none" stroke-width="0" />
</g>
<circle cx="797" cy="241.2" r="29.5" fill="#e6e6ea" stroke="#333" stroke-width="0.8" />
<circle cx="797" cy="241.2" r="83" fill="none" stroke="#222" stroke-width="1.9" />
<circle cx="797" cy="241.2" r="73.6" fill="none" stroke="#222" stroke-width="1.9" />
<circle cx="797" cy="241.2" r="64.5" fill="none" stroke="#222" stroke-width="1.9" />
<circle cx="797" cy="241.2" r="55.2" fill="none" stroke="#222" stroke-width="1.9" />
<circle cx="797" cy="241.2" r="45.8" fill="none" stroke="#222" stroke-width="1.9" />
<g transform="translate(721 165.2) rotate(44.71)"><path d="M0 -3.6 L86.21 -3.6 A3.6 3.6 0 0 1 86.21 3.6 L0 3.6 Z M0 -1.15 L86.21 -1.15 A1.15 1.15 0 0 1 86.21 1.15 L0 1.15 Z" fill="#f4f4f4" fill-rule="evenodd" stroke="#1c1c1c" stroke-width="0.95"/><circle cx="86.21" cy="0" r="1.9" fill="#111"/></g>
<circle cx="721" cy="165.2" r="5.8" fill="white" stroke="#1c1c1c" stroke-width="1.2" />
<circle cx="721" cy="165.2" r="3.3" fill="white" stroke="#1c1c1c" stroke-width="1.3" />
<g transform="translate(872.8 165.2) rotate(135.19)"><path d="M0 -3.6 L86.07 -3.6 A3.6 3.6 0 0 1 86.07 3.6 L0 3.6 Z M0 -1.15 L86.07 -1.15 A1.15 1.15 0 0 1 86.07 1.15 L0 1.15 Z" fill="#f4f4f4" fill-rule="evenodd" stroke="#1c1c1c" stroke-width="0.95"/><circle cx="86.07" cy="0" r="1.9" fill="#111"/></g>
<circle cx="872.8" cy="165.2" r="5.8" fill="white" stroke="#1c1c1c" stroke-width="1.2" />
<circle cx="872.8" cy="165.2" r="3.3" fill="white" stroke="#1c1c1c" stroke-width="1.3" />
<g transform="translate(721 317.6) rotate(-44.71)"><path d="M0 -3.6 L86.21 -3.6 A3.6 3.6 0 0 1 86.21 3.6 L0 3.6 Z M0 -1.15 L86.21 -1.15 A1.15 1.15 0 0 1 86.21 1.15 L0 1.15 Z" fill="#f4f4f4" fill-rule="evenodd" stroke="#1c1c1c" stroke-width="0.95"/><circle cx="86.21" cy="0" r="1.9" fill="#111"/></g>
<circle cx="721" cy="317.6" r="5.8" fill="white" stroke="#1c1c1c" stroke-width="1.2" />
<circle cx="721" cy="317.6" r="3.3" fill="white" stroke="#1c1c1c" stroke-width="1.3" />
<g transform="translate(872.8 317.6) rotate(-135.19)"><path d="M0 -3.6 L86.07 -3.6 A3.6 3.6 0 0 1 86.07 3.6 L0 3.6 Z M0 -1.15 L86.07 -1.15 A1.15 1.15 0 0 1 86.07 1.15 L0 1.15 Z" fill="#f4f4f4" fill-rule="evenodd" stroke="#1c1c1c" stroke-width="0.95"/><circle cx="86.07" cy="0" r="1.9" fill="#111"/></g>
<circle cx="872.8" cy="317.6" r="5.8" fill="white" stroke="#1c1c1c" stroke-width="1.2" />
<circle cx="872.8" cy="317.6" r="3.3" fill="white" stroke="#1c1c1c" stroke-width="1.3" />
<path d="M933.6 156 L952 163.5 L939.6 163.5 Z" stroke="#222" stroke-width="0.7" fill="#555" />
<path d="M933.6 171 L952 163.5 L939.6 163.5 Z" stroke="#222" stroke-width="0.7" fill="#85858b" />
<text x="955" y="166.4" font-family="Liberation Sans, sans-serif" font-size="7.7" font-weight="normal" fill="#0a0a0a" text-anchor="start" textLength="15.2" lengthAdjust="spacingAndGlyphs" stroke="#0a0a0a" stroke-width="0.14">OUT</text>
<path d="M631.4 312.9 L649.4 320.4 L637.4 320.4 Z" stroke="#222" stroke-width="0.7" fill="#555" />
<path d="M631.4 328.5 L649.4 320.4 L637.4 320.4 Z" stroke="#222" stroke-width="0.7" fill="#85858b" />
<text x="626" y="323.4" font-family="Liberation Sans, sans-serif" font-size="7.2" font-weight="normal" fill="#0a0a0a" text-anchor="start" textLength="6.9" lengthAdjust="spacingAndGlyphs" stroke="#0a0a0a" stroke-width="0.14">IN</text>
<line x1="649.7" y1="267" x2="649.7" y2="337.5" stroke="#1c1c1c" stroke-width="0.8" />
<path d="M649.7 308.6 L648.3 304.6 L651.1 304.6 Z" stroke="#151515" stroke-width="0.3" fill="#151515" />
<path d="M649.7 332.6 L648.3 336.6 L651.1 336.6 Z" stroke="#151515" stroke-width="0.3" fill="#151515" />
<line x1="649.7" y1="309" x2="673.4" y2="309" stroke="#1c1c1c" stroke-width="0.8" />
<line x1="649.7" y1="332.4" x2="673.4" y2="332.4" stroke="#1c1c1c" stroke-width="0.8" />
<text x="648.4" y="269" font-family="Liberation Sans, sans-serif" font-size="9.4" font-weight="normal" fill="#0a0a0a" text-anchor="middle" transform="rotate(-90 648.4 269)" textLength="54" lengthAdjust="spacingAndGlyphs" stroke="#0a0a0a" stroke-width="0.14">G1 N° 2 holes</text>
<path d="M699.5 351.2 L695.3 351.2 Q693.3 351.2 693.3 353.2 L693.3 376.6 Q693.3 378.6 691.3 378.6 L687 378.6" stroke="#1c1c1c" stroke-width="2.5" fill="none" />
<path d="M699.5 351.2 L695.3 351.2 Q693.3 351.2 693.3 353.2 L693.3 376.6 Q693.3 378.6 691.3 378.6 L687 378.6" stroke="#f0f0f0" stroke-width="0.8" fill="none" />
<rect x="669" y="375.4" width="18.8" height="7.9" rx="3.4" fill="white" stroke="#1c1c1c" stroke-width="0.9" />
<line x1="671.6" y1="377.9" x2="685.2" y2="377.9" stroke="#555" stroke-width="0.6" />
<line x1="671.6" y1="380.8" x2="685.2" y2="380.8" stroke="#555" stroke-width="0.6" />
<path d="M893.5 351.2 L897.8 351.2 Q899.8 351.2 899.8 353.2 L899.8 376.6 Q899.8 378.6 901.8 378.6 L906 378.6" stroke="#1c1c1c" stroke-width="2.5" fill="none" />
<path d="M893.5 351.2 L897.8 351.2 Q899.8 351.2 899.8 353.2 L899.8 376.6 Q899.8 378.6 901.8 378.6 L906 378.6" stroke="#f0f0f0" stroke-width="0.8" fill="none" />
<rect x="905" y="375.4" width="19" height="7.9" rx="3.4" fill="white" stroke="#1c1c1c" stroke-width="0.9" />
<line x1="907.6" y1="377.9" x2="921.4" y2="377.9" stroke="#555" stroke-width="0.6" />
<line x1="907.6" y1="380.8" x2="921.4" y2="380.8" stroke="#555" stroke-width="0.6" />
<line x1="680" y1="388" x2="680" y2="408" stroke="#1c1c1c" stroke-width="0.8" />
<line x1="914" y1="388" x2="914" y2="408" stroke="#1c1c1c" stroke-width="0.8" />
<line x1="680" y1="406" x2="914" y2="406" stroke="#1c1c1c" stroke-width="1" />
<path d="M680 406 L684.3 404.1 L684.3 407.9 Z" stroke="#151515" stroke-width="0.3" fill="#151515" />
<path d="M914 406 L909.7 404.1 L909.7 407.9 Z" stroke="#151515" stroke-width="0.3" fill="#151515" />
<text x="796.4" y="399.9" font-family="Liberation Sans, sans-serif" font-size="9.6" font-weight="normal" fill="#0a0a0a" text-anchor="middle" textLength="15.06" lengthAdjust="spacingAndGlyphs" stroke="#0a0a0a" stroke-width="0.14">320</text>
<text x="931.6" y="367.3" font-family="Liberation Sans, sans-serif" font-size="9.6" font-weight="normal" fill="#0a0a0a" text-anchor="start" textLength="28.8" lengthAdjust="spacingAndGlyphs" stroke="#0a0a0a" stroke-width="0.14">ØG 1/2</text>
<text x="929.8" y="377.8" font-family="Liberation Sans, sans-serif" font-size="9.6" font-weight="normal" fill="#0a0a0a" text-anchor="start" textLength="44.6" lengthAdjust="spacingAndGlyphs" stroke="#0a0a0a" stroke-width="0.14">Drain holes</text>
<line x1="928.5" y1="364.5" x2="921.5" y2="349.5" stroke="#1c1c1c" stroke-width="0.8" />
<path d="M921 348.2 L919.8 351.7 L922.2 351.7 Z" stroke="#151515" stroke-width="0.3" fill="#151515" />
<line x1="31" y1="457.6" x2="966.3" y2="457.6" stroke="#a4a4a7" stroke-width="1.8" />
<line x1="31" y1="498.6" x2="966.3" y2="498.6" stroke="#a4a4a7" stroke-width="1.8" />
<line x1="31" y1="521.8" x2="966.3" y2="521.8" stroke="#a4a4a7" stroke-width="1.8" />
<line x1="31" y1="545.5" x2="966.3" y2="545.5" stroke="#a4a4a7" stroke-width="1.8" />
<line x1="112.2" y1="456.7" x2="112.2" y2="548.6" stroke="#a4a4a7" stroke-width="1.8" />
<line x1="179.3" y1="456.7" x2="179.3" y2="548.6" stroke="#a4a4a7" stroke-width="1.8" />
<line x1="270.1" y1="456.7" x2="270.1" y2="548.6" stroke="#a4a4a7" stroke-width="1.8" />
<line x1="377.1" y1="456.7" x2="377.1" y2="548.6" stroke="#a4a4a7" stroke-width="1.8" />
<line x1="465.4" y1="456.7" x2="465.4" y2="548.6" stroke="#a4a4a7" stroke-width="1.8" />
<line x1="554.5" y1="456.7" x2="554.5" y2="548.6" stroke="#a4a4a7" stroke-width="1.8" />
<line x1="614.1" y1="456.7" x2="614.1" y2="548.6" stroke="#a4a4a7" stroke-width="1.8" />
<line x1="697.2" y1="456.7" x2="697.2" y2="548.6" stroke="#a4a4a7" stroke-width="1.8" />
<line x1="743.6" y1="456.7" x2="743.6" y2="548.6" stroke="#a4a4a7" stroke-width="1.8" />
<line x1="788.1" y1="456.7" x2="788.1" y2="548.6" stroke="#a4a4a7" stroke-width="1.8" />
<line x1="848.9" y1="456.7" x2="848.9" y2="548.6" stroke="#a4a4a7" stroke-width="1.8" />
<line x1="915" y1="456.7" x2="915" y2="548.6" stroke="#a4a4a7" stroke-width="1.8" />
<line x1="965.4" y1="456.7" x2="965.4" y2="548.6" stroke="#a4a4a7" stroke-width="1.8" />
<text x="70.6" y="474.9" font-family="Liberation Sans, sans-serif" font-size="14" font-weight="bold" fill="#1f1f1f" text-anchor="middle" textLength="64.9" lengthAdjust="spacingAndGlyphs" stroke="#1f1f1f" stroke-width="0.15">Frequency</text>
<text x="70.6" y="492.6" font-family="Liberation Sans, sans-serif" font-size="14" font-weight="bold" fill="#1f1f1f" text-anchor="middle" textLength="15.7" lengthAdjust="spacingAndGlyphs" stroke="#1f1f1f" stroke-width="0.15">Hz</text>
<text x="145.75" y="474.9" font-family="Liberation Sans, sans-serif" font-size="14" font-weight="bold" fill="#1f1f1f" text-anchor="middle" textLength="48.5" lengthAdjust="spacingAndGlyphs" stroke="#1f1f1f" stroke-width="0.15">Voltage</text>
<text x="145.75" y="492.6" font-family="Liberation Sans, sans-serif" font-size="14" font-weight="bold" fill="#1f1f1f" text-anchor="middle" textLength="9.3" lengthAdjust="spacingAndGlyphs" stroke="#1f1f1f" stroke-width="0.15">V</text>
<text x="224.7" y="483.8" font-family="Liberation Sans, sans-serif" font-size="14" font-weight="bold" fill="#1f1f1f" text-anchor="middle" textLength="28.2" lengthAdjust="spacingAndGlyphs" stroke="#1f1f1f" stroke-width="0.15">RPM</text>
<text x="323.6" y="474.9" font-family="Liberation Sans, sans-serif" font-size="14" font-weight="bold" fill="#1f1f1f" text-anchor="middle" textLength="40.8" lengthAdjust="spacingAndGlyphs" stroke="#1f1f1f" stroke-width="0.15">Power</text>
<text x="323.6" y="492.6" font-family="Liberation Sans, sans-serif" font-size="14" font-weight="bold" fill="#1f1f1f" text-anchor="middle" textLength="21.2" lengthAdjust="spacingAndGlyphs" stroke="#1f1f1f" stroke-width="0.15">kW</text>
<text x="421.25" y="474.9" font-family="Liberation Sans, sans-serif" font-size="14" font-weight="bold" fill="#1f1f1f" text-anchor="middle" textLength="46.8" lengthAdjust="spacingAndGlyphs" stroke="#1f1f1f" stroke-width="0.15">Current</text>
<text x="421.25" y="492.6" font-family="Liberation Sans, sans-serif" font-size="14" font-weight="bold" fill="#1f1f1f" text-anchor="middle" textLength="9.8" lengthAdjust="spacingAndGlyphs" stroke="#1f1f1f" stroke-width="0.15">A</text>
<text x="509.95" y="474.9" font-family="Liberation Sans, sans-serif" font-size="14" font-weight="bold" fill="#1f1f1f" text-anchor="middle" textLength="30.4" lengthAdjust="spacingAndGlyphs" stroke="#1f1f1f" stroke-width="0.15">Q air</text>
<text x="509.95" y="492.6" font-family="Liberation Sans, sans-serif" font-size="14" font-weight="bold" fill="#1f1f1f" text-anchor="middle" textLength="40.6" lengthAdjust="spacingAndGlyphs" stroke="#1f1f1f" stroke-width="0.15">(m/h)</text>
<text x="584.3" y="474.9" font-family="Liberation Sans, sans-serif" font-size="14" font-weight="bold" fill="#1f1f1f" text-anchor="middle" textLength="16.6" lengthAdjust="spacingAndGlyphs" stroke="#1f1f1f" stroke-width="0.15">dB</text>
<text x="584.3" y="492.6" font-family="Liberation Sans, sans-serif" font-size="14" font-weight="bold" fill="#1f1f1f" text-anchor="middle" textLength="19.6" lengthAdjust="spacingAndGlyphs" stroke="#1f1f1f" stroke-width="0.15">(A)</text>
<text x="655.65" y="474.9" font-family="Liberation Sans, sans-serif" font-size="14" font-weight="bold" fill="#1f1f1f" text-anchor="middle" textLength="38.6" lengthAdjust="spacingAndGlyphs" stroke="#1f1f1f" stroke-width="0.15">Ø FAN</text>
<text x="655.65" y="492.6" font-family="Liberation Sans, sans-serif" font-size="14" font-weight="bold" fill="#1f1f1f" text-anchor="middle" textLength="24.6" lengthAdjust="spacingAndGlyphs" stroke="#1f1f1f" stroke-width="0.15">mm</text>
<text x="720.4" y="474.9" font-family="Liberation Sans, sans-serif" font-size="14" font-weight="bold" fill="#1f1f1f" text-anchor="middle" textLength="8.8" lengthAdjust="spacingAndGlyphs" stroke="#1f1f1f" stroke-width="0.15">L</text>
<text x="720.4" y="492.6" font-family="Liberation Sans, sans-serif" font-size="14" font-weight="bold" fill="#1f1f1f" text-anchor="middle" textLength="25.2" lengthAdjust="spacingAndGlyphs" stroke="#1f1f1f" stroke-width="0.15">mm</text>
<text x="765.85" y="474.9" font-family="Liberation Sans, sans-serif" font-size="14" font-weight="bold" fill="#1f1f1f" text-anchor="middle" textLength="13.8" lengthAdjust="spacingAndGlyphs" stroke="#1f1f1f" stroke-width="0.15">L1</text>
<text x="765.85" y="492.6" font-family="Liberation Sans, sans-serif" font-size="14" font-weight="bold" fill="#1f1f1f" text-anchor="middle" textLength="25.2" lengthAdjust="spacingAndGlyphs" stroke="#1f1f1f" stroke-width="0.15">mm</text>
<text x="818.5" y="474.9" font-family="Liberation Sans, sans-serif" font-size="14" font-weight="bold" fill="#1f1f1f" text-anchor="middle" textLength="27.2" lengthAdjust="spacingAndGlyphs" stroke="#1f1f1f" stroke-width="0.15">Cap.</text>
<text x="818.5" y="492.6" font-family="Liberation Sans, sans-serif" font-size="14" font-weight="bold" fill="#1f1f1f" text-anchor="middle" textLength="20.6" lengthAdjust="spacingAndGlyphs" stroke="#1f1f1f" stroke-width="0.15">(lt)</text>
<text x="881.95" y="474.9" font-family="Liberation Sans, sans-serif" font-size="14" font-weight="bold" fill="#1f1f1f" text-anchor="middle" textLength="45.2" lengthAdjust="spacingAndGlyphs" stroke="#1f1f1f" stroke-width="0.15">Weight</text>
<text x="881.95" y="492.6" font-family="Liberation Sans, sans-serif" font-size="14" font-weight="bold" fill="#1f1f1f" text-anchor="middle" textLength="27.2" lengthAdjust="spacingAndGlyphs" stroke="#1f1f1f" stroke-width="0.15">(kg)</text>
<text x="940.2" y="483.8" font-family="Liberation Sans, sans-serif" font-size="14" font-weight="bold" fill="#1f1f1f" text-anchor="middle" textLength="12.6" lengthAdjust="spacingAndGlyphs" stroke="#1f1f1f" stroke-width="0.15">IP</text>
<text x="70.6" y="515.5" font-family="Liberation Sans, sans-serif" font-size="14" font-weight="bold" fill="#1f1f1f" text-anchor="middle" stroke="#1f1f1f" stroke-width="0.15">50</text>
<text x="70.6" y="539.2" font-family="Liberation Sans, sans-serif" font-size="14" font-weight="bold" fill="#1f1f1f" text-anchor="middle" stroke="#1f1f1f" stroke-width="0.15">50</text>
<text x="145.75" y="515.5" font-family="Liberation Sans, sans-serif" font-size="14" font-weight="bold" fill="#1f1f1f" text-anchor="middle" stroke="#1f1f1f" stroke-width="0.15">230</text>
<text x="145.75" y="539.2" font-family="Liberation Sans, sans-serif" font-size="14" font-weight="bold" fill="#1f1f1f" text-anchor="middle" stroke="#1f1f1f" stroke-width="0.15">400</text>
<text x="224.7" y="515.5" font-family="Liberation Sans, sans-serif" font-size="14" font-weight="bold" fill="#1f1f1f" text-anchor="middle" stroke="#1f1f1f" stroke-width="0.15">2400</text>
<text x="224.7" y="539.2" font-family="Liberation Sans, sans-serif" font-size="14" font-weight="bold" fill="#1f1f1f" text-anchor="middle" stroke="#1f1f1f" stroke-width="0.15">2400</text>
<text x="323.6" y="515.5" font-family="Liberation Sans, sans-serif" font-size="14" font-weight="bold" fill="#1f1f1f" text-anchor="middle" stroke="#1f1f1f" stroke-width="0.15">0,09</text>
<text x="323.6" y="539.2" font-family="Liberation Sans, sans-serif" font-size="14" font-weight="bold" fill="#1f1f1f" text-anchor="middle" stroke="#1f1f1f" stroke-width="0.15">0,1</text>
<text x="421.25" y="515.5" font-family="Liberation Sans, sans-serif" font-size="14" font-weight="bold" fill="#1f1f1f" text-anchor="middle" stroke="#1f1f1f" stroke-width="0.15">0,42</text>
<text x="421.25" y="539.2" font-family="Liberation Sans, sans-serif" font-size="14" font-weight="bold" fill="#1f1f1f" text-anchor="middle" stroke="#1f1f1f" stroke-width="0.15">0,19</text>
<text x="509.95" y="515.5" font-family="Liberation Sans, sans-serif" font-size="14" font-weight="bold" fill="#1f1f1f" text-anchor="middle" stroke="#1f1f1f" stroke-width="0.15">1530</text>
<text x="509.95" y="539.2" font-family="Liberation Sans, sans-serif" font-size="14" font-weight="bold" fill="#1f1f1f" text-anchor="middle" stroke="#1f1f1f" stroke-width="0.15">1550</text>
<text x="584.3" y="515.5" font-family="Liberation Sans, sans-serif" font-size="14" font-weight="bold" fill="#1f1f1f" text-anchor="middle" stroke="#1f1f1f" stroke-width="0.15">60</text>
<text x="584.3" y="539.2" font-family="Liberation Sans, sans-serif" font-size="14" font-weight="bold" fill="#1f1f1f" text-anchor="middle" stroke="#1f1f1f" stroke-width="0.15">60</text>
<text x="655.65" y="515.5" font-family="Liberation Sans, sans-serif" font-size="14" font-weight="bold" fill="#1f1f1f" text-anchor="middle" stroke="#1f1f1f" stroke-width="0.15">250</text>
<text x="655.65" y="539.2" font-family="Liberation Sans, sans-serif" font-size="14" font-weight="bold" fill="#1f1f1f" text-anchor="middle" stroke="#1f1f1f" stroke-width="0.15">250</text>
<text x="720.4" y="515.5" font-family="Liberation Sans, sans-serif" font-size="14" font-weight="bold" fill="#1f1f1f" text-anchor="middle" stroke="#1f1f1f" stroke-width="0.15">-</text>
<text x="720.4" y="539.2" font-family="Liberation Sans, sans-serif" font-size="14" font-weight="bold" fill="#1f1f1f" text-anchor="middle" stroke="#1f1f1f" stroke-width="0.15">-</text>
<text x="765.85" y="515.5" font-family="Liberation Sans, sans-serif" font-size="14" font-weight="bold" fill="#1f1f1f" text-anchor="middle" stroke="#1f1f1f" stroke-width="0.15">240</text>
<text x="765.85" y="539.2" font-family="Liberation Sans, sans-serif" font-size="14" font-weight="bold" fill="#1f1f1f" text-anchor="middle" stroke="#1f1f1f" stroke-width="0.15">240</text>
<text x="818.5" y="515.5" font-family="Liberation Sans, sans-serif" font-size="14" font-weight="bold" fill="#1f1f1f" text-anchor="middle" stroke="#1f1f1f" stroke-width="0.15">0.9</text>
<text x="818.5" y="539.2" font-family="Liberation Sans, sans-serif" font-size="14" font-weight="bold" fill="#1f1f1f" text-anchor="middle" stroke="#1f1f1f" stroke-width="0.15">0.9</text>
<text x="881.95" y="515.5" font-family="Liberation Sans, sans-serif" font-size="14" font-weight="bold" fill="#1f1f1f" text-anchor="middle" stroke="#1f1f1f" stroke-width="0.15">11</text>
<text x="881.95" y="539.2" font-family="Liberation Sans, sans-serif" font-size="14" font-weight="bold" fill="#1f1f1f" text-anchor="middle" stroke="#1f1f1f" stroke-width="0.15">11</text>
<text x="940.2" y="515.5" font-family="Liberation Sans, sans-serif" font-size="14" font-weight="bold" fill="#1f1f1f" text-anchor="middle" stroke="#1f1f1f" stroke-width="0.15">54</text>
<text x="940.2" y="539.2" font-family="Liberation Sans, sans-serif" font-size="14" font-weight="bold" fill="#1f1f1f" text-anchor="middle" stroke="#1f1f1f" stroke-width="0.15">54</text>
<line x1="381" y1="606" x2="381" y2="951.5" stroke="#3a3a3a" stroke-width="1.2" />
<line x1="424.27" y1="606" x2="424.27" y2="951.5" stroke="#3a3a3a" stroke-width="1.2" />
<line x1="467.54" y1="606" x2="467.54" y2="951.5" stroke="#3a3a3a" stroke-width="1.2" />
<line x1="510.81" y1="606" x2="510.81" y2="951.5" stroke="#3a3a3a" stroke-width="1.2" />
<line x1="554.08" y1="606" x2="554.08" y2="951.5" stroke="#3a3a3a" stroke-width="1.2" />
<line x1="597.35" y1="606" x2="597.35" y2="951.5" stroke="#3a3a3a" stroke-width="1.2" />
<line x1="640.62" y1="606" x2="640.62" y2="951.5" stroke="#3a3a3a" stroke-width="1.2" />
<line x1="378.5" y1="606" x2="640.6" y2="606" stroke="#3a3a3a" stroke-width="1.2" />
<line x1="378.5" y1="674.2" x2="640.6" y2="674.2" stroke="#3a3a3a" stroke-width="1.2" />
<line x1="378.5" y1="742.4" x2="640.6" y2="742.4" stroke="#3a3a3a" stroke-width="1.2" />
<line x1="378.5" y1="810.6" x2="640.6" y2="810.6" stroke="#3a3a3a" stroke-width="1.2" />
<line x1="378.5" y1="878.8" x2="640.6" y2="878.8" stroke="#3a3a3a" stroke-width="1.2" />
<line x1="378.5" y1="947" x2="640.6" y2="947" stroke="#3a3a3a" stroke-width="1.2" />
<line x1="381" y1="947" x2="640.6" y2="947" stroke="#2a2a2a" stroke-width="1.5" />
<line x1="381" y1="606" x2="381" y2="951.5" stroke="#2f2f2f" stroke-width="1.3" />
<text x="368.3" y="611.2" font-family="Liberation Sans, sans-serif" font-size="10" font-weight="normal" fill="#2a2a2a" text-anchor="end" >0,4</text>
<text x="368.3" y="679.4" font-family="Liberation Sans, sans-serif" font-size="10" font-weight="normal" fill="#2a2a2a" text-anchor="end" >0,35</text>
<text x="368.3" y="747.6" font-family="Liberation Sans, sans-serif" font-size="10" font-weight="normal" fill="#2a2a2a" text-anchor="end" >0,3</text>
<text x="368.3" y="815.8" font-family="Liberation Sans, sans-serif" font-size="10" font-weight="normal" fill="#2a2a2a" text-anchor="end" >0,25</text>
<text x="368.3" y="884" font-family="Liberation Sans, sans-serif" font-size="10" font-weight="normal" fill="#2a2a2a" text-anchor="end" >0,2</text>
<text x="368.3" y="952.2" font-family="Liberation Sans, sans-serif" font-size="10" font-weight="normal" fill="#2a2a2a" text-anchor="end" >0,15</text>
<text x="381" y="963" font-family="Liberation Sans, sans-serif" font-size="10" font-weight="normal" fill="#2a2a2a" text-anchor="middle" >30</text>
<text x="467.54" y="963" font-family="Liberation Sans, sans-serif" font-size="10" font-weight="normal" fill="#2a2a2a" text-anchor="middle" >60</text>
<text x="554.08" y="963" font-family="Liberation Sans, sans-serif" font-size="10" font-weight="normal" fill="#2a2a2a" text-anchor="middle" >90</text>
<text x="640.62" y="963" font-family="Liberation Sans, sans-serif" font-size="10" font-weight="normal" fill="#2a2a2a" text-anchor="middle" >120</text>
<text x="365.5" y="586.5" font-family="Liberation Sans, sans-serif" font-size="12" font-weight="normal" fill="#2a2a2a" text-anchor="middle" >Kw/°C</text>
<text x="659" y="946.5" font-family="Liberation Sans, sans-serif" font-size="13" font-weight="normal" fill="#2a2a2a" text-anchor="middle" >lpm</text>
<text x="338" y="775.4" font-family="Liberation Sans, sans-serif" font-size="10.4" font-weight="bold" fill="#2a2a2a" text-anchor="middle" transform="rotate(-90 338 775.4)" textLength="77" lengthAdjust="spacingAndGlyphs" >TOLERANCE +/-5%</text>
<path d="M380.4 908.96 L387.09 904.41 L393.79 899.86 L400.48 895.32 L407.18 890.77 L413.87 886.22 L420.57 881.68 L427.26 877.14 L433.96 872.61 L440.65 868.09 L447.35 863.59 L454.04 859.09 L460.74 854.61 L467.43 850.15 L474.13 845.71 L480.82 841.28 L487.52 836.88 L494.21 832.5 L500.91 828.15 L507.6 823.82 L514.3 819.53 L520.99 815.26 L527.69 811.03 L534.38 806.83 L541.08 802.67 L547.77 798.54 L554.47 794.45 L561.16 790.41 L567.86 786.41 L574.55 782.45 L581.25 778.54 L587.94 774.68 L594.64 770.87 L601.33 767.11 L608.03 763.41 L614.72 759.76 L621.42 756.17 L628.11 752.63 L634.81 749.16 L641.5 745.75" stroke="#6d6e72" stroke-width="6.4" fill="none" stroke-linecap="round" stroke-linejoin="round"/>
<path d="M380.4 890.39 L387.07 885.81 L393.73 881.22 L400.4 876.63 L407.07 872.05 L413.73 867.47 L420.4 862.89 L427.07 858.32 L433.73 853.75 L440.4 849.19 L447.07 844.65 L453.73 840.11 L460.4 835.58 L467.07 831.07 L473.73 826.57 L480.4 822.09 L487.07 817.63 L493.73 813.18 L500.4 808.75 L507.07 804.35 L513.73 799.96 L520.4 795.6 L527.07 791.27 L533.73 786.96 L540.4 782.68 L547.07 778.43 L553.73 774.2 L560.4 770.01 L567.07 765.85 L573.73 761.72 L580.4 757.63 L587.07 753.58 L593.73 749.56 L600.4 745.58 L607.07 741.65 L613.73 737.75 L620.4 733.9 L627.07 730.09 L633.73 726.32 L640.4 722.61" stroke="#e04916" stroke-width="6.4" fill="none" stroke-linecap="round" stroke-linejoin="round"/>
<line x1="580.8" y1="963.5" x2="595.2" y2="963.5" stroke="#6d6e72" stroke-width="4.8" stroke-linecap="round"/>
<line x1="580.8" y1="974.1" x2="595.2" y2="974.1" stroke="#e04916" stroke-width="4.8" stroke-linecap="round"/>
<text x="600.9" y="966.8" font-family="Liberation Sans, sans-serif" font-size="9.5" font-weight="normal" fill="#333" text-anchor="start" textLength="9" lengthAdjust="spacingAndGlyphs" >DC</text>
<text x="600.9" y="977.3" font-family="Liberation Sans, sans-serif" font-size="9.5" font-weight="normal" fill="#333" text-anchor="start" textLength="9" lengthAdjust="spacingAndGlyphs" >AC</text>
</svg>
</body></html>
